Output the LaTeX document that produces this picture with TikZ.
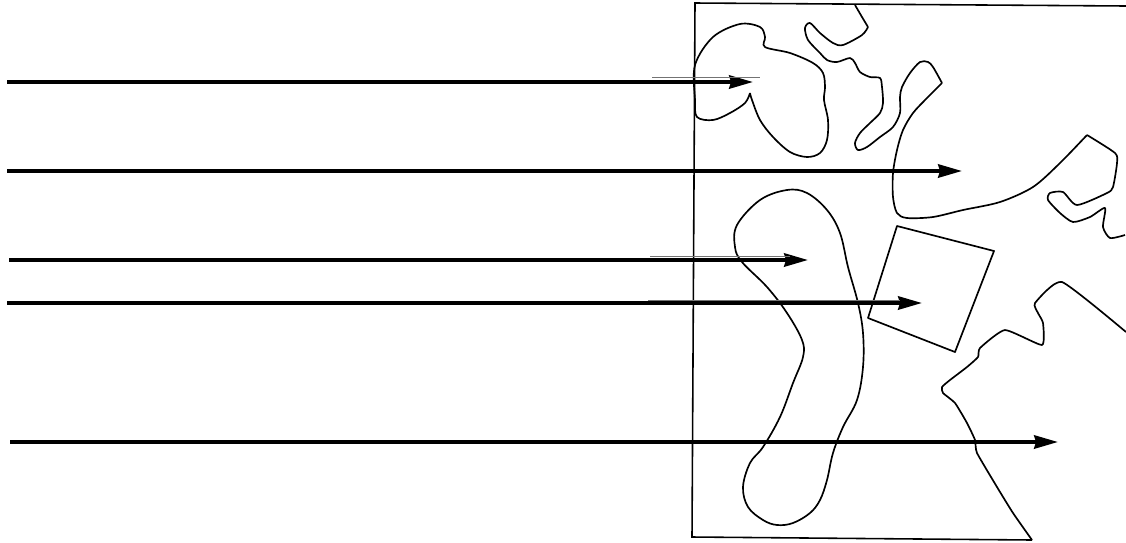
\documentclass[tikz,border=0pt]{standalone}
\usetikzlibrary{arrows.meta}

\begin{document}
\begin{tikzpicture}[
  x=0.02cm, y=-0.02cm,
  ray/.style = {line width=2.1pt, -{Stealth[length=13.5pt, width=7.5pt, inset=1pt]}},
  ghost/.style = {line width=0.35pt, black!55},
  outline/.style = {line width=0.95pt, line join=round},
  frame/.style = {line width=0.9pt}
]
\useasboundingbox (0,0) rectangle (1126,542);

% sample frame (open on the right)
\coordinate (tr) at (1126,6);
\coordinate (tl) at (695,3);
\coordinate (bl) at (692,537);
\coordinate (br) at (1032,540);
\draw[frame] (tr) -- (tl) -- (bl) -- (br);

% pores and inclusions
\draw[outline] plot[smooth, tension=0.55] coordinates {
  (750,93) (745,103) (730,113) (713,120) (697,117) (695,100) (695,65)
  (713,37) (740,24) (760,27) (765,37) (765,47) (790,53) (813,63) (823,73)
  (825,87) (824,100) (828,120) (827,140) (820,153) (807,157) (790,152)
  (773,137) (760,120) (752,100) (750,93)};

\draw[outline] plot[smooth, tension=0.5] coordinates {
  (855,5) (862,17) (868,27)};
\draw[outline] plot[smooth, tension=0.5] coordinates {
  (868,27) (862,35) (843,45) (833,43) (820,33) (810,23) (805,28) (808,40)
  (820,53) (827,60) (837,62) (850,58) (855,63) (860,72) (870,77) (880,78)
  (882,87) (883,103) (880,113) (870,123) (860,133) (855,143) (858,150)
  (867,147) (880,137) (893,127) (900,113) (900,97) (902,87) (910,73)
  (920,62) (928,62) (933,67) (942,83)};
\draw[outline] plot[smooth, tension=0.5] coordinates {
  (942,83) (927,98) (913,113) (903,130) (897,150) (893,173) (893,197)
  (897,213) (907,218) (933,217) (963,210) (1000,202) (1033,187) (1060,163)
  (1087,135)};
\draw[outline] plot[smooth, tension=0.4] coordinates {
  (1087,135) (1115,153) (1117,163) (1113,187) (1107,193) (1077,205)
  (1063,192) (1050,193) (1048,200) (1060,213) (1073,222) (1090,217)
  (1105,208) (1103,227) (1110,238) (1125,235)};

\draw[outline] plot[smooth cycle, tension=0.6] coordinates {
  (760,200) (787,190) (807,193) (827,210) (840,233) (848,267) (858,303)
  (863,333) (863,367) (857,400) (843,427) (833,453) (827,480) (820,500)
  (810,513) (793,523) (777,525) (763,520) (748,507) (743,487) (750,463)
  (763,447) (780,417) (793,383) (803,357) (802,340) (787,313) (767,287)
  (742,262) (735,247) (737,225)};

\draw[outline] (897,226) -- (994,251) -- (955,352) -- (868,318) -- cycle;

\draw[outline] plot[smooth, tension=0.3] coordinates {
  (1126,332) (1062,282) (1035,303) (1038,313) (1043,323) (1042,345)
  (1005,330) (980,348) (978,357) (967,367) (950,380) (942,387) (943,393)
  (955,403) (967,423) (975,440) (977,453) (997,487) (1013,513) (1032,540)};

% incident rays
\foreach \n/\y/\xs/\xe in {a/82/7/753, b/171/7/962, c/260/9/808, d/303/7/922, e/442/10/1058} {
  \coordinate (s\n) at (\xs,\y);
  \coordinate (t\n) at (\xe,\y);
  \draw[ray] (s\n) -- (t\n);
}

% faint doubled strokes
\coordinate (ga) at (652,77);  \coordinate (ha) at (760,77);
\coordinate (gc) at (650,256); \coordinate (hc) at (790,256);
\coordinate (gd) at (648,300); \coordinate (hd) at (900,300);
\draw[ghost] (ga) -- (ha);
\draw[ghost] (gc) -- (hc);
\draw[ghost] (gd) -- (hd);

\end{tikzpicture}
\end{document}
